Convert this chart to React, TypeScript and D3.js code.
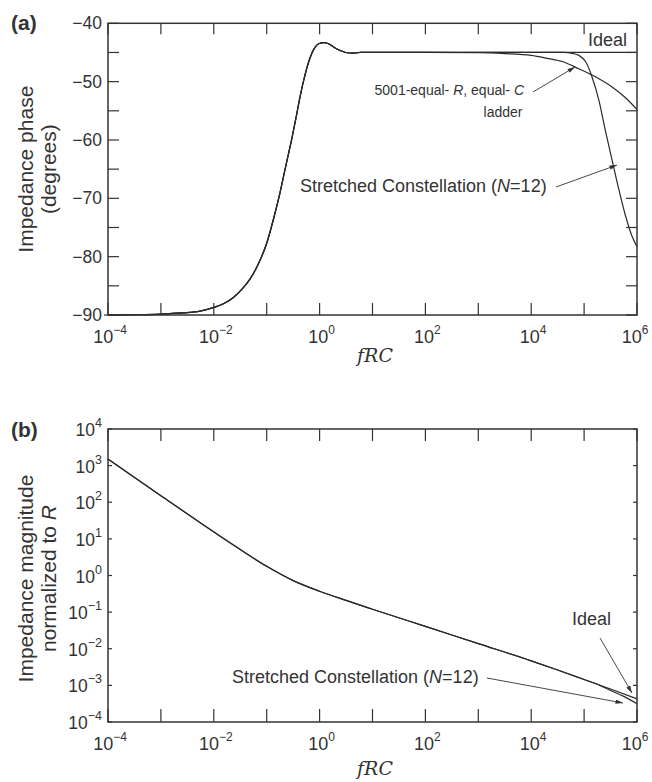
import React from 'react';
import * as d3 from 'd3';

// log10(fRC) / phase (deg)
const commonLogF = [-4, -3.5, -3, -2.6, -2.26, -2, -1.8, -1.63, -1.45, -1.32, -1.15, -1, -0.87, -0.75, -0.64, -0.53, -0.45, -0.37, -0.28, -0.18, -0.1, -0.02, 0.09, 0.18, 0.27, 0.4, 0.52, 0.65, 0.77, 1];
const commonPhase = [-90, -89.95, -89.85, -89.65, -89.35, -88.7, -88.0, -87.0, -85.4, -83.9, -81.1, -77.7, -73.5, -69.1, -64.5, -60, -56.4, -52.6, -49.0, -45.9, -44.3, -43.5, -43.3, -43.55, -44.1, -44.7, -45.05, -45.1, -45.0, -45.0];

const idealTailLogF = [2, 3, 4, 5, 6];
const idealTailPhase = [-45, -45, -45, -45, -45];

const ladderTailLogF = [2, 3, 3.5, 4, 4.3, 4.6, 4.9, 5.22, 5.53, 5.8, 6];
const ladderTailPhase = [-45, -45.05, -45.2, -45.5, -46, -46.6, -47.8, -49.2, -50.9, -52.9, -54.8];

const stretchTailLogF = [2, 3, 4, 4.6, 4.8, 4.9, 5.03, 5.15, 5.28, 5.4, 5.53, 5.66, 5.78, 5.91, 6];
const stretchTailPhase = [-45, -45, -45, -45, -45.2, -45.5, -46.6, -49.2, -53.2, -58.3, -63.5, -68.6, -72.9, -76.6, -78.3];

// log10(fRC) / log10(|Z|/R)
const magLogF = [-4, -3, -2, -1.5, -1, -0.5, 0, 0.5, 1, 2, 3, 4, 4.5, 5];
const magLogZ = [3.18, 2.18, 1.19, 0.71, 0.25, -0.14, -0.43, -0.68, -0.92, -1.39, -1.86, -2.33, -2.58, -2.84];
const magIdealTailLogF = [5.5, 6];
const magIdealTailLogZ = [-3.10, -3.37];
const magStretchTailLogF = [5.3, 5.5, 5.75, 6];
const magStretchTailLogZ = [-3.0, -3.14, -3.3, -3.5];

const xTickExps = [-4, -2, 0, 2, 4, 6];
const xMinorExps = d3.range(-4, 7, 1);
const phaseTicks = d3.range(-90, -39, 5);
const magTickExps = d3.range(-4, 5, 1);

const FONT = '"Liberation Sans", Arial, sans-serif';
const INK = '#333';

const left = 108, right = 637;
const A = { top: 23.3, bottom: 315 };
const B = { top: 429, bottom: 722 };

const x = d3.scaleLog().domain([1e-4, 1e6]).range([left, right]);
const yA = d3.scaleLinear().domain([-90, -40]).range([A.bottom, A.top]);
const yB = d3.scaleLog().domain([1e-4, 1e4]).range([B.bottom, B.top]);

type Pt = [number, number];
const zip = (xs: number[], ys: number[]): Pt[] => xs.map((v, i) => [v, ys[i]]);

const lineA = d3.line<Pt>().x(d => x(Math.pow(10, d[0]))).y(d => yA(d[1])).curve(d3.curveMonotoneX);
const lineB = d3.line<Pt>().x(d => x(Math.pow(10, d[0]))).y(d => yB(Math.pow(10, d[1]))).curve(d3.curveMonotoneX);

const phaseSeries = [
  zip(commonLogF, commonPhase).concat(zip(idealTailLogF, idealTailPhase)),
  zip(commonLogF, commonPhase).concat(zip(ladderTailLogF, ladderTailPhase)),
  zip(commonLogF, commonPhase).concat(zip(stretchTailLogF, stretchTailPhase)),
];
const magSeries = [
  zip(magLogF, magLogZ).concat(zip(magIdealTailLogF, magIdealTailLogZ)),
  zip(magLogF, magLogZ).concat(zip(magStretchTailLogF, magStretchTailLogZ)),
];

const sup = (e: number) => (e < 0 ? '\u2212' + Math.abs(e) : String(e));

function Arrow({ x1, y1, x2, y2 }: { x1: number; y1: number; x2: number; y2: number }) {
  return <line x1={x1} y1={y1} x2={x2} y2={y2} stroke={INK} strokeWidth={0.9} markerEnd="url(#ah)" />;
}

function XAxis({ top, bottom, tickLen }: { top: number; bottom: number; tickLen: number }) {
  return (
    <g>
      {xMinorExps.map(e => (
        <g key={e}>
          <line x1={x(Math.pow(10, e))} x2={x(Math.pow(10, e))} y1={bottom} y2={bottom - tickLen} stroke={INK} strokeWidth={1.2} />
          <line x1={x(Math.pow(10, e))} x2={x(Math.pow(10, e))} y1={top} y2={top + tickLen - 1} stroke={INK} strokeWidth={1.2} />
        </g>
      ))}
      {xTickExps.map(e => (
        <text key={e} x={x(Math.pow(10, e)) + (e === 6 ? -2 : 2)} y={bottom + 28} textAnchor="middle" fontFamily={FONT} fontSize={18} fill={INK}>
          10<tspan dy={-9} fontSize={12}>{sup(e)}</tspan>
        </text>
      ))}
    </g>
  );
}

export default function App() {
  return (
    <svg width={652} height={782} style={{ position: 'absolute', left: 0, top: 0, background: '#fff' }}>
      <defs>
        <marker id="ah" viewBox="0 0 10 6" refX={10} refY={3} markerWidth={8} markerHeight={4.5} orient="auto" markerUnits="userSpaceOnUse">
          <path d="M0,0 L10,3 L0,6 Z" fill={INK} />
        </marker>
      </defs>

      {/* ---------- panel (a) ---------- */}
      <text x={11} y={30} fontFamily={FONT} fontWeight="bold" fontSize={21} fill={INK}>(a)</text>
      <text transform={`translate(33,${(A.top + A.bottom) / 2}) rotate(-90)`} textAnchor="middle" fontFamily={FONT} fontSize={21} fill={INK}>Impedance phase</text>
      <text transform={`translate(56,${(A.top + A.bottom) / 2}) rotate(-90)`} textAnchor="middle" fontFamily={FONT} fontSize={21} fill={INK}>(degrees)</text>

      {phaseSeries.map((s, i) => (
        <path key={i} d={lineA(s) || ''} fill="none" stroke="#2a2a2a" strokeWidth={1.2} />
      ))}

      <rect x={left} y={A.top} width={right - left} height={A.bottom - A.top} fill="none" stroke={INK} strokeWidth={1.5} />
      {phaseTicks.map(t => (
        <g key={t}>
          <line x1={left} x2={left + 11} y1={yA(t)} y2={yA(t)} stroke={INK} strokeWidth={1.2} />
          <line x1={right} x2={right - 11} y1={yA(t)} y2={yA(t)} stroke={INK} strokeWidth={1.2} />
          {t % 10 === 0 && (
            <text x={102} y={yA(t) + 6} textAnchor="end" fontFamily={FONT} fontSize={17.5} fill={INK}>{sup(t)}</text>
          )}
        </g>
      ))}
      <line x1={left - 4} x2={left} y1={A.bottom} y2={A.bottom} stroke={INK} strokeWidth={1.2} />
      <XAxis top={A.top} bottom={A.bottom} tickLen={12} />
      <text x={375} y={362} textAnchor="middle" fontFamily='"DejaVu Serif", "Liberation Serif", serif' fontStyle="italic" fontSize={19} fill={INK}>fRC</text>

      <text x={627} y={46} textAnchor="end" fontFamily={FONT} fontSize={18} fill={INK}>Ideal</text>
      <text x={524} y={95} textAnchor="end" fontFamily={FONT} fontSize={14} fill={INK}>
        5001-equal- <tspan fontStyle="italic">R</tspan>, equal- <tspan fontStyle="italic">C</tspan>
      </text>
      <text x={503} y={117} textAnchor="middle" fontFamily={FONT} fontSize={14} fill={INK}>ladder</text>
      <Arrow x1={533} y1={92} x2={575} y2={67} />
      <text x={300} y={192} fontFamily={FONT} fontSize={18} fill={INK}>
        Stretched Constellation (<tspan fontStyle="italic">N</tspan>=12)
      </text>
      <Arrow x1={556} y1={187} x2={617} y2={165} />

      {/* ---------- panel (b) ---------- */}
      <text x={11} y={437} fontFamily={FONT} fontWeight="bold" fontSize={21} fill={INK}>(b)</text>
      <text transform={`translate(33,${(B.top + B.bottom) / 2 + 3}) rotate(-90)`} textAnchor="middle" fontFamily={FONT} fontSize={21} fill={INK}>Impedance magnitude</text>
      <text transform={`translate(56,${(B.top + B.bottom) / 2 + 3}) rotate(-90)`} textAnchor="middle" fontFamily={FONT} fontSize={21} fill={INK}>
        normalized to <tspan fontStyle="italic">R</tspan>
      </text>

      {magSeries.map((s, i) => (
        <path key={i} d={lineB(s) || ''} fill="none" stroke="#2a2a2a" strokeWidth={1.2} />
      ))}

      <rect x={left} y={B.top} width={right - left} height={B.bottom - B.top} fill="none" stroke={INK} strokeWidth={1.5} />
      {magTickExps.map(e => (
        <g key={e}>
          <line x1={left} x2={left + 4} y1={yB(Math.pow(10, e))} y2={yB(Math.pow(10, e))} stroke={INK} strokeWidth={1.2} />
          <line x1={right} x2={right - 4} y1={yB(Math.pow(10, e))} y2={yB(Math.pow(10, e))} stroke={INK} strokeWidth={1.2} />
          <text x={102} y={yB(Math.pow(10, e)) + 7} textAnchor="end" fontFamily={FONT} fontSize={17.5} fill={INK}>
            10<tspan dy={-9} fontSize={12.5}>{sup(e)}</tspan>
          </text>
        </g>
      ))}
      <XAxis top={B.top} bottom={B.bottom} tickLen={13} />
      <text x={375} y={775} textAnchor="middle" fontFamily='"DejaVu Serif", "Liberation Serif", serif' fontStyle="italic" fontSize={19} fill={INK}>fRC</text>

      <text x={611} y={625} textAnchor="end" fontFamily={FONT} fontSize={18} fill={INK}>Ideal</text>
      <Arrow x1={600} y1={638} x2={632} y2={693} />
      <text x={232} y={683} fontFamily={FONT} fontSize={18} fill={INK}>
        Stretched Constellation (<tspan fontStyle="italic">N</tspan>=12)
      </text>
      <Arrow x1={487} y1={678} x2={623} y2={703} />
    </svg>
  );
}
